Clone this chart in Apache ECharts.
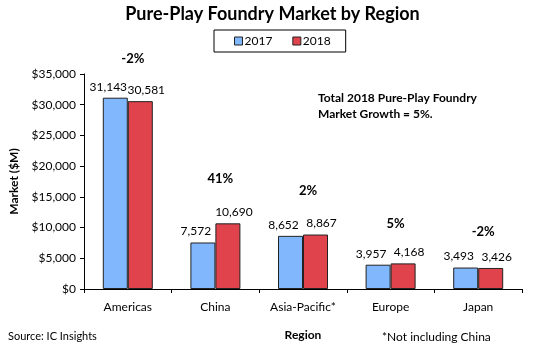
<!DOCTYPE html>
<html><head><meta charset="utf-8">
<script src="https://cdn.jsdelivr.net/npm/echarts@6/dist/echarts.min.js"></script>
<style>html,body{margin:0;padding:0;background:#fff}#c{width:545px;height:346px}</style>
</head><body><div id="c"></div>
<script>
const categories = ['Americas', 'China', 'Asia-Pacific*', 'Europe', 'Japan'];
const values2017 = [31143, 7572, 8652, 3957, 3493];
const values2018 = [30581, 10690, 8867, 4168, 3426];
const growthLabels = ['-2%', '41%', '2%', '5%', '-2%'];
const growthLabelValues = [37400, 17950, 16000, 10600, 9330];

const FONT = 'Lato, "Open Sans", sans-serif';
const chart = echarts.init(document.getElementById('c'));
const fmt = v => v.toLocaleString('en-US');

chart.setOption({
  animation: false,
  textStyle: { fontFamily: FONT, color: '#000' },
  title: {
    text: 'Pure-Play Foundry Market by Region',
    left: 'center', top: 0,
    textStyle: { fontFamily: FONT, fontSize: 18, fontWeight: 'bold', color: '#000' }
  },
  legend: {
    data: ['2017', '2018'],
    left: 214, top: 30,
    padding: [5, 15, 5, 20],
    borderColor: '#000', borderWidth: 1,
    itemWidth: 8, itemHeight: 8, itemGap: 20,
    icon: 'rect',
    itemStyle: { borderColor: '#222', borderWidth: 1 },
    textStyle: { fontFamily: FONT, fontSize: 12, color: '#000', padding: [0, 0, 0, -3] }
  },
  grid: { left: 77, right: 23, top: 74, bottom: 52.5, containLabel: false },
  xAxis: {
    type: 'category', data: categories,
    name: 'Region', nameLocation: 'middle', nameGap: 40,
    nameTextStyle: { fontFamily: FONT, fontSize: 12, fontWeight: 'bold', color: '#000' },
    axisLine: { lineStyle: { color: '#000', width: 1 } },
    axisTick: { show: true, length: 4, lineStyle: { color: '#000' } },
    axisLabel: { fontFamily: FONT, fontSize: 12, color: '#000', margin: 12 }
  },
  yAxis: {
    type: 'value', min: 0, max: 35000, interval: 5000,
    name: 'Market ($M)', nameLocation: 'middle', nameGap: 64, nameRotate: 90,
    nameTextStyle: { fontFamily: FONT, fontSize: 12, fontWeight: 'bold', color: '#000' },
    axisLine: { show: true, lineStyle: { color: '#000', width: 1 } },
    axisTick: { show: true, length: 4, lineStyle: { color: '#000' } },
    splitLine: { show: false },
    axisLabel: { fontFamily: FONT, fontSize: 12, color: '#000', margin: 8,
      formatter: v => '$' + fmt(v) }
  },
  series: [
    {
      name: '2017', type: 'bar', data: values2017,
      barWidth: 25, barGap: '0%',
      itemStyle: { color: '#80b7fd', borderColor: '#222', borderWidth: 1 },
      label: { show: true, position: 'top', distance: 5, fontFamily: FONT, fontSize: 12, color: '#000',
        formatter: p => fmt(p.value), offset: [-7, 0] }
    },
    {
      name: '2018', type: 'bar', data: values2018,
      barWidth: 25,
      itemStyle: { color: '#e0434b', borderColor: '#222', borderWidth: 1 },
      label: { show: true, position: 'top', distance: 5, fontFamily: FONT, fontSize: 12, color: '#000',
        formatter: p => fmt(p.value), offset: [6, 0] }
    },
    {
      name: 'growth', type: 'scatter', symbolSize: 1, silent: true, clip: false,
      itemStyle: { opacity: 0 },
      data: growthLabelValues.map((v, i) => ({
        value: [categories[i], v],
        label: { show: true, formatter: growthLabels[i], fontWeight: 'bold', fontSize: 13,
          fontFamily: FONT, color: '#000', opacity: 1 }
      })),
      label: { show: true, position: 'inside', offset: [5, 0], fontFamily: FONT, fontSize: 13, fontWeight: 'bold', color: '#000' },
      tooltip: { show: false }
    }
  ],
  graphic: [
    { type: 'text', left: 318, top: 90,
      style: { text: 'Total 2018 Pure-Play Foundry\nMarket Growth = 5%.', font: 'bold 12px ' + FONT, fill: '#000', lineHeight: 16 } },
    { type: 'text', left: 8, top: 331,
      style: { text: 'Source: IC Insights', font: '11px ' + FONT, fill: '#000' } },
    { type: 'text', left: 382, top: 331,
      style: { text: '*Not including China', font: '12px ' + FONT, fill: '#000' } }
  ]
});
</script></body></html>
